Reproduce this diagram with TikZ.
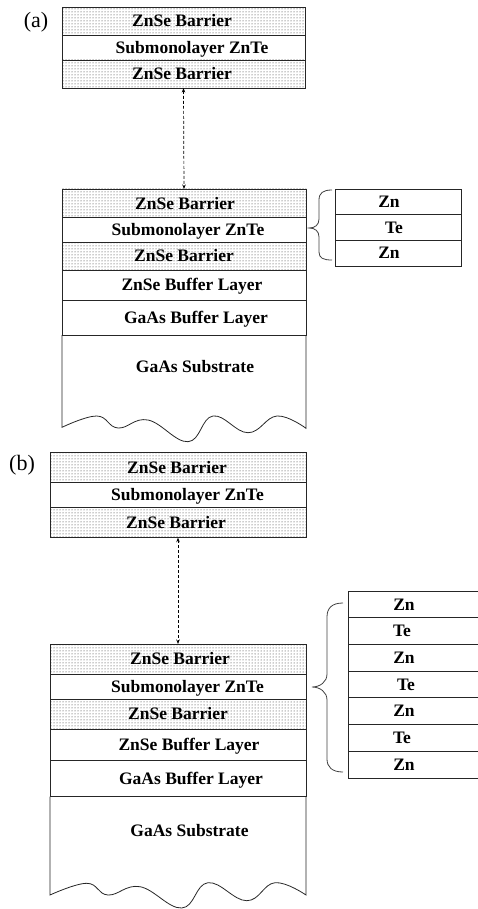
\documentclass[tikz,border=0pt]{standalone}
\usepackage{fontspec}
\setmainfont{Liberation Serif}
\usetikzlibrary{patterns,arrows.meta}
\begin{document}
\begin{tikzpicture}[x=1pt,y=-1pt,
  plain/.style={draw=black!85, line width=0.8pt, anchor=north west, inner sep=0pt, outer sep=0pt},
  barrier/.style={plain, pattern=dots, pattern color=black!85},
  lbl/.style={font=\fontsize{17.5}{17.5}\selectfont\bfseries, inner sep=0pt, text height=11.5pt, text depth=0pt},
  panel/.style={font=\fontsize{22}{22}\selectfont, inner sep=0pt},
  gap/.style={dash pattern=on 3pt off 2pt, line width=0.7pt, {Stealth[length=4.5pt,width=3.5pt]}-{Stealth[length=4.5pt,width=3.5pt]}},
  edge/.style={draw=black!85, line width=0.8pt},
  bracestroke/.style={draw=black!75, line width=0.8pt},
]
\useasboundingbox (0,0) rectangle (478,909);

% ================= (a) =================
\node[panel] (la) at (36,22) {(a)};
% top stack
\node[barrier, minimum width=243pt, minimum height=28pt] (a1) at (62,7) {};
\node[plain,   minimum width=243pt, minimum height=25pt] (a2) at (62,35) {};
\node[barrier, minimum width=243pt, minimum height=28pt] (a3) at (62,60) {};
\node[lbl] (ta1) at (182,21) {ZnSe Barrier};
\node[lbl] (ta2) at (192,47.5) {Submonolayer ZnTe};
\node[lbl] (ta3) at (182,74) {ZnSe Barrier};
% lower stack
\node[barrier, minimum width=244pt, minimum height=28.5pt] (a4) at (62,189) {};
\node[plain,   minimum width=244pt, minimum height=24.5pt] (a5) at (62,217.5) {};
\node[barrier, minimum width=244pt, minimum height=28pt] (a6) at (62,242) {};
\node[plain,   minimum width=244pt, minimum height=30pt] (a7) at (62,270) {};
\node[plain,   minimum width=244pt, minimum height=35pt] (a8) at (62,300) {};
\draw[edge] (a8.south west) -- plot[smooth, tension=0.7] coordinates {(62,427.3) (96.7,416) (118,428) (148,420) (188,441.7) (213,416) (248,432.7) (277,416) (306,428.3)} -- (a8.south east);
\node[lbl] (ta4) at (185,203.3) {ZnSe Barrier};
\node[lbl] (ta5) at (188,229.8) {Submonolayer ZnTe};
\node[lbl] (ta6) at (184,256) {ZnSe Barrier};
\node[lbl] (ta7) at (192,285) {ZnSe Buffer Layer};
\node[lbl] (ta8) at (196,317.5) {GaAs Buffer Layer};
\node[lbl] (ta9) at (195,366.7) {GaAs Substrate};
\draw[gap] (a3.south) -- (a4.north);
% atomic layers
\node[plain, minimum width=126pt, minimum height=25.7pt] (za1) at (335,189) {};
\node[plain, minimum width=126pt, minimum height=25.6pt] (za2) at (335,214.7) {};
\node[plain, minimum width=126pt, minimum height=25.7pt] (za3) at (335,240.3) {};
\node[lbl] at (389,201.8) {Zn};
\node[lbl] at (394,227.5) {Te};
\node[lbl] at (389,253.2) {Zn};
\draw[bracestroke] (332,190) .. controls (323,190) and (319,193) .. (319,200) -- (319,219)
  .. controls (319,225) and (315,228) .. (309,228)
  .. controls (315,228) and (319,231) .. (319,237) -- (319,252)
  .. controls (319,258) and (323,260) .. (332,260);

% ================= (b) =================
\node[panel] (lb) at (22,465) {(b)};
% top stack
\node[barrier, minimum width=256pt, minimum height=29.3pt] (b1) at (50,452.7) {};
\node[plain,   minimum width=256pt, minimum height=25.7pt] (b2) at (50,482) {};
\node[barrier, minimum width=256pt, minimum height=30pt] (b3) at (50,507.7) {};
\node[lbl] (tb1) at (177,467.3) {ZnSe Barrier};
\node[lbl] (tb2) at (187.5,494.8) {Submonolayer ZnTe};
\node[lbl] (tb3) at (176,522.7) {ZnSe Barrier};
% lower stack
\node[barrier, minimum width=256pt, minimum height=30pt] (b4) at (50,644) {};
\node[plain,   minimum width=256pt, minimum height=25.3pt] (b5) at (50,674) {};
\node[barrier, minimum width=256pt, minimum height=29.7pt] (b6) at (50,699.3) {};
\node[plain,   minimum width=256pt, minimum height=31.7pt] (b7) at (50,729) {};
\node[plain,   minimum width=256pt, minimum height=36pt] (b8) at (50,760.7) {};
\draw[edge] (b8.south west) -- plot[smooth, tension=0.7] coordinates {(50,895) (86.7,883.3) (108,895) (140,886.7) (181.7,908) (208,882.7) (246.7,900.7) (275,882.7) (306,895)} -- (b8.south east);
\node[lbl] (tb4) at (180,659) {ZnSe Barrier};
\node[lbl] (tb5) at (187.5,686.7) {Submonolayer ZnTe};
\node[lbl] (tb6) at (178,714.2) {ZnSe Barrier};
\node[lbl] (tb7) at (189,744.8) {ZnSe Buffer Layer};
\node[lbl] (tb8) at (191,778.7) {GaAs Buffer Layer};
\node[lbl] (tb9) at (189.5,830.7) {GaAs Substrate};
\draw[gap] (b3.south) -- (b4.north);
% atomic layers
\foreach \i/\t/\xx in {0/Zn/404,1/Te/402,2/Zn/404,3/Te/406,4/Zn/404,5/Te/402,6/Zn/404}{
  \node[plain, minimum width=135pt, minimum height=26.71pt] (zb\i) at (348,{591+26.71*\i}) {};
  \node[lbl] at (\xx,{591+26.71*(\i+0.5)}) {\t};
}
\draw[bracestroke] (343,603) .. controls (332,603) and (327,608) .. (327,617) -- (327,674)
  .. controls (327,682) and (320,687) .. (312,687)
  .. controls (320,687) and (327,692) .. (327,700) -- (327,759)
  .. controls (327,767) and (332,772) .. (343,772);
\end{tikzpicture}
\end{document}
